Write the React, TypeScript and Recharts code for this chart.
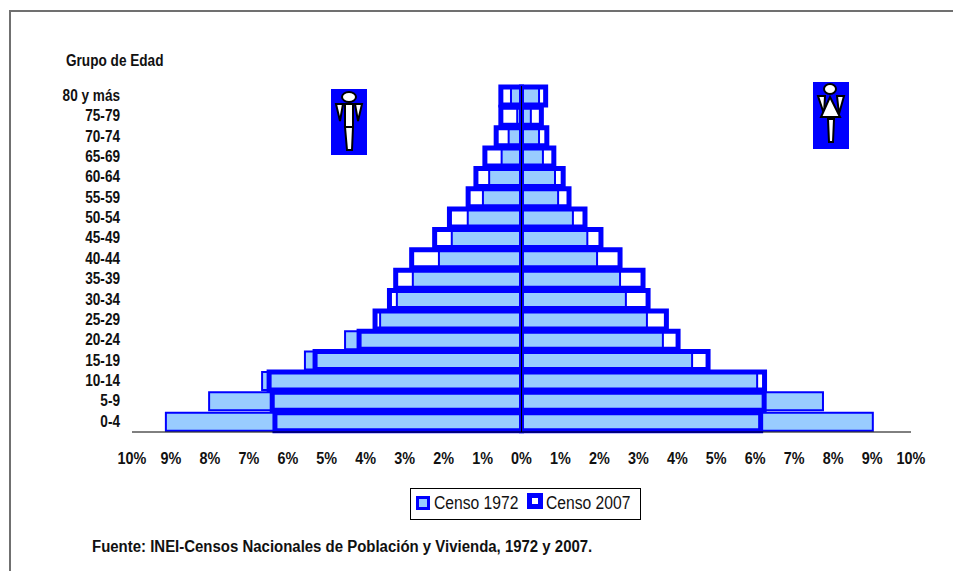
import { Bar, BarChart, ReferenceLine, XAxis, YAxis } from "recharts";

const AGE_GROUPS = ["80 y más", "75-79", "70-74", "65-69", "60-64", "55-59", "50-54", "45-49", "40-44", "35-39", "30-34", "25-29", "20-24", "15-19", "10-14", "5-9", "0-4"];
const MEN_1972 = [-0.27, -0.11, -0.33, -0.51, -0.83, -0.99, -1.38, -1.79, -2.12, -2.79, -3.2, -3.63, -4.53, -5.56, -6.66, -8.02, -9.13];
const WOMEN_1972 = [0.45, 0.24, 0.45, 0.55, 0.86, 0.94, 1.32, 1.69, 1.94, 2.53, 2.68, 3.22, 3.63, 4.38, 6.05, 7.74, 9.02];
const MEN_2007 = [-0.53, -0.53, -0.65, -0.94, -1.17, -1.37, -1.85, -2.23, -2.82, -3.23, -3.39, -3.76, -4.17, -5.3, -6.48, -6.4, -6.33];
const WOMEN_2007 = [0.62, 0.51, 0.65, 0.83, 1.07, 1.22, 1.63, 2.04, 2.53, 3.12, 3.25, 3.72, 4.02, 4.79, 6.24, 6.23, 6.14];
const X_TICKS = [-10, -9, -8, -7, -6, -5, -4, -3, -2, -1, 0, 1, 2, 3, 4, 5, 6, 7, 8, 9, 10];

const data = AGE_GROUPS.map((group, i) => ({
  group,
  men72: MEN_1972[i],
  women72: WOMEN_1972[i],
  men07: MEN_2007[i],
  women07: WOMEN_2007[i],
}));

const FONT = "'Liberation Sans', Arial, sans-serif";
const BLUE = "#0000ff";
const LIGHT = "#99ccff";

// no narrow font installed, so the regular one gets squeezed sideways
function NarrowTick({ x, y, payload, anchor, format, squeeze, shift }: any) {
  return (
    <text
      transform={`translate(${x},${y}) scale(${squeeze},1)`}
      dy={shift}
      textAnchor={anchor}
      fontFamily={FONT}
      fontSize={16}
      fontWeight={700}
      fill="#111"
    >
      {format ? format(payload.value) : payload.value}
    </text>
  );
}

const formatPercent = (v: number) => `${Math.abs(v)}%`;

function Label({ left, top, scale, size, bold, children }: any) {
  return (
    <div
      style={{
        position: "absolute",
        left,
        top,
        fontSize: size,
        fontWeight: bold ? 700 : 400,
        lineHeight: "20px",
        whiteSpace: "nowrap",
        color: "#111",
        transform: `scaleX(${scale})`,
        transformOrigin: "left center",
      }}
    >
      {children}
    </div>
  );
}

function Swatch({ left, top, size, border, inner }: any) {
  return (
    <div
      style={{
        position: "absolute",
        left,
        top,
        boxSizing: "border-box",
        width: size,
        height: size,
        background: inner,
        border: `${border}px solid ${BLUE}`,
      }}
    />
  );
}

function CensusLegend() {
  return (
    <>
      <div style={{ position: "absolute", left: 410, top: 488, boxSizing: "border-box", width: 231, height: 32, background: "#fff", border: "1px solid #000" }} />
      <Swatch left={416} top={496} size={14} border={3} inner={LIGHT} />
      <Label left={434} top={493} scale={0.87} size={18}>Censo 1972</Label>
      <Swatch left={527} top={493} size={16} border={5} inner="#fff" />
      <Label left={546} top={493} scale={0.87} size={18}>Censo 2007</Label>
    </>
  );
}

function ManIcon() {
  return (
    <svg width={36} height={66} style={{ position: "absolute", left: 331, top: 89 }}>
      <rect width={36} height={66} fill={BLUE} />
      <g fill="#fff" stroke="#000" strokeWidth={2}>
        <ellipse cx={18} cy={8} rx={7} ry={5} />
        <path d="M5 15 H12 L9 32 Z" />
        <path d="M24 15 H31 L27 32 Z" />
        <path d="M14 15 H22 V38 H14 Z" />
        <path d="M14 38 H22 L21 61 H16 Z" />
      </g>
    </svg>
  );
}

function WomanIcon() {
  return (
    <svg width={36} height={67} style={{ position: "absolute", left: 813, top: 82 }}>
      <rect width={36} height={67} fill={BLUE} />
      <g fill="#fff" stroke="#000" strokeWidth={2}>
        <ellipse cx={17} cy={7} rx={6} ry={5} />
        <path d="M5 14 H12 L11 32 Z" />
        <path d="M24 14 H31 L26 32 Z" />
        <path d="M17 15 L27 35 H8 Z" />
        <path d="M15 37 H21 L20 60 H16 Z" />
      </g>
    </svg>
  );
}

export default function App() {
  return (
    <div style={{ position: "absolute", left: 0, top: 0, width: 953, height: 571, background: "#fff", overflow: "hidden", fontFamily: FONT }}>
      <div style={{ position: "absolute", left: 9, top: 10, width: 960, height: 580, borderTop: "2px solid #707070", borderLeft: "2px solid #707070" }} />
      <BarChart
        width={953}
        height={571}
        data={data}
        layout="vertical"
        stackOffset="sign"
        barCategoryGap={1}
        margin={{ top: 86, right: 42, bottom: 99, left: 0 }}
        style={{ position: "absolute", left: 0, top: 0 }}
      >
        <XAxis
          type="number"
          domain={[-10, 10]}
          ticks={X_TICKS}
          interval={0}
          tick={<NarrowTick anchor="middle" format={formatPercent} squeeze={0.9} shift="0.36em" />}
          tickLine={false}
          tickMargin={20}
          height={40}
          axisLine={{ stroke: "#000", strokeWidth: 1 }}
        />
        <YAxis
          yAxisId="census72"
          type="category"
          dataKey="group"
          width={132}
          interval={0}
          axisLine={false}
          tickLine={false}
          tickMargin={6}
          tick={<NarrowTick anchor="end" squeeze={0.85} shift="0.3em" />}
        />
        <YAxis yAxisId="census07" type="category" dataKey="group" hide width={0} />
        <Bar yAxisId="census72" dataKey="men72" stackId="c72" fill={LIGHT} stroke={BLUE} strokeWidth={2} isAnimationActive={false} />
        <Bar yAxisId="census72" dataKey="women72" stackId="c72" fill={LIGHT} stroke={BLUE} strokeWidth={2} isAnimationActive={false} />
        <Bar yAxisId="census07" dataKey="men07" stackId="c07" fill="none" stroke={BLUE} strokeWidth={5} isAnimationActive={false} />
        <Bar yAxisId="census07" dataKey="women07" stackId="c07" fill="none" stroke={BLUE} strokeWidth={5} isAnimationActive={false} />
        <ReferenceLine yAxisId="census72" x={0} stroke="#000" strokeWidth={1} />
      </BarChart>
      <CensusLegend />
      <Label left={66} top={51} scale={0.85} size={16} bold>Grupo de Edad</Label>
      <Label left={92} top={537} scale={0.935} size={16} bold>
        Fuente: INEI-Censos Nacionales de Población y Vivienda, 1972 y 2007.
      </Label>
      <ManIcon />
      <WomanIcon />
    </div>
  );
}
